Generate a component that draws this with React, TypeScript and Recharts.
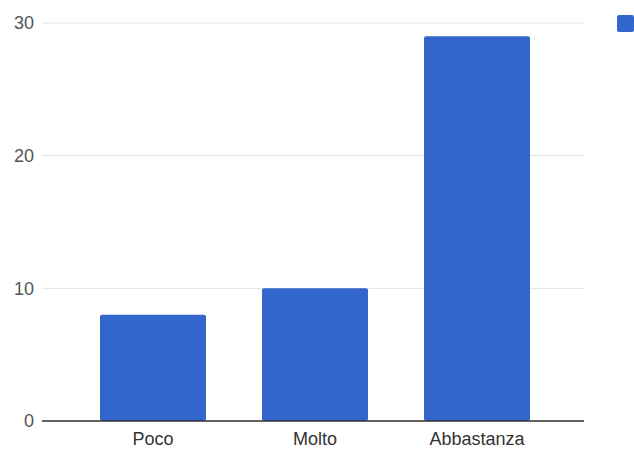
import React from "react";
import {
  BarChart,
  Bar,
  XAxis,
  YAxis,
  CartesianGrid,
  Legend,
} from "recharts";

// answers and how many people picked each one
const categories = ["Poco", "Molto", "Abbastanza"];
const counts = [8, 10, 29];
const yTicks = [0, 10, 20, 30];
const seriesName = "Risposte";

const BLUE = "#3366cc";
const FONT = "Arial, 'Liberation Sans', sans-serif";

const data = categories.map((name, i) => ({ name, value: counts[i] }));

// only the colour swatch fits inside the frame; the label runs past the right edge
function LegendBox() {
  return (
    <div
      style={{
        width: 17,
        height: 17,
        borderRadius: 2,
        backgroundColor: BLUE,
      }}
    />
  );
}

export default function App() {
  return (
    <div
      style={{
        position: "fixed",
        top: 0,
        left: 0,
        width: 634,
        height: 453,
        overflow: "hidden",
        background: "#fff",
      }}
    >
      <BarChart
        width={634}
        height={453}
        data={data}
        margin={{ top: 23, right: 50, bottom: 2, left: 0 }}
      >
        <CartesianGrid vertical={false} stroke="#e3e3e3" />
        <XAxis
          dataKey="name"
          height={30}
          padding={{ left: 30, right: 26 }}
          axisLine={{ stroke: "#333", strokeWidth: 1.5 }}
          tickLine={false}
          tickMargin={5}
          tick={{ fill: "#333", fontSize: 18, fontFamily: FONT }}
        />
        <YAxis
          width={42}
          domain={[0, 30]}
          ticks={yTicks}
          axisLine={false}
          tickLine={false}
          tick={{ fill: "#555", fontSize: 18, fontFamily: FONT }}
        />
        <Legend
          layout="horizontal"
          verticalAlign="middle"
          content={() => <LegendBox />}
          wrapperStyle={{ position: "absolute", left: 617, top: 15, width: 17 }}
        />
        <Bar
          dataKey="value"
          name={seriesName}
          fill={BLUE}
          barSize={106}
          radius={2}
          isAnimationActive={false}
        />
      </BarChart>
    </div>
  );
}
